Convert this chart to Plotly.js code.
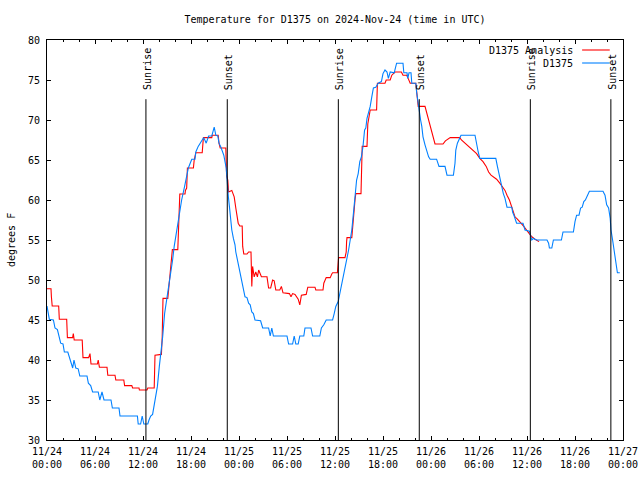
<!DOCTYPE html>
<html><head><meta charset="utf-8">
<script src="https://cdn.plot.ly/plotly-3.0.1.min.js"></script>
<style>html,body{margin:0;padding:0;background:#fff}#chart{width:640px;height:480px}</style>
</head><body><div id="chart"></div>
<script>
// hours since 2024-11-24 00:00 UTC
const analysisHours = [0.0,0.5,0.55,0.65,1.46,1.54,2.46,2.55,3.2,3.29,3.4,4.4,4.5,5.2,5.375,5.5,6.3,6.4,6.55,7.5,7.6,8.5,8.6,9.6,9.7,10.6,10.7,11.5,11.55,12.5,12.6,13.4,13.5,14.3,14.4,14.5,15.1,15.2,15.375,15.5,15.67,16.35,16.45,16.55,16.6,17.25,17.3,17.46,17.55,18.3,18.4,18.6,19.4,19.55,20.6,20.65,21.4,21.5,21.65,22.35,22.45,22.6,22.7,23.1,23.4,23.6,23.75,23.9,24.1,24.4,24.46,24.6,25.0,25.2,25.5,25.55,25.6,25.7,25.8,25.9,26.1,26.3,26.46,26.6,26.8,27.5,27.7,27.96,28.2,28.4,28.6,29.1,29.3,29.5,30.3,30.5,30.7,31.0,31.2,31.4,31.6,31.8,32.4,32.6,33.5,33.6,34.5,34.6,34.9,35.4,35.6,35.7,36.3,36.4,36.45,37.25,37.4,37.45,37.5,38.1,38.2,38.3,38.4,38.5,38.6,39.25,39.4,40.0,40.1,40.4,41.2,41.3,42.25,42.4,42.9,43.1,43.5,44.3,44.5,44.96,45.1,45.4,46.1,46.3,46.4,47.25,47.5,47.7,47.9,48.1,48.3,48.5,49.5,49.8,50.4,51.6,51.8,52.25,52.9,53.3,53.7,54.1,54.5,54.9,55.2,55.5,55.8,56.2,56.6,57.0,57.25,57.5,57.8,58.1,58.3,58.5,58.8,59.1,59.4,59.6,59.9,60.2,60.4,60.6,61.0,61.5];
const analysisTemps = [48.9,48.9,47.9,46.75,46.75,45.1,45.1,42.8,42.8,43.3,42.5,42.5,40.3,40.3,40.8,39.5,39.5,40.0,39.1,39.1,38.1,38.1,37.5,37.5,36.8,36.8,36.5,36.5,36.25,36.25,36.5,36.5,40.6,40.7,42.9,47.7,47.7,48.75,50.4,52.5,53.8,53.8,56.25,59.0,60.75,60.75,61.2,61.5,64.0,64.0,65.0,65.9,65.9,67.8,67.8,68.1,68.1,67.1,66.5,66.5,63.0,62.5,61.0,61.2,60.4,59.0,58.0,57.1,56.75,56.75,54.2,53.25,53.25,53.5,53.5,51.7,49.2,51.7,51.25,50.4,51.0,50.4,51.25,50.8,50.4,50.4,49.0,49.0,50.0,49.9,48.75,48.75,49.2,48.4,48.3,47.9,48.3,48.2,47.8,47.6,46.9,48.1,48.2,49.1,49.1,48.75,48.75,49.6,50.3,50.3,50.75,50.9,50.9,52.5,52.8,52.8,53.5,54.8,55.3,55.3,56.7,57.5,59.2,60.0,60.8,60.8,66.7,66.7,69.5,71.25,71.25,74.6,74.6,75.0,75.0,75.6,76.0,76.0,75.6,75.6,75.3,74.6,74.6,72.9,71.7,71.7,70.8,70.0,69.1,68.3,67.7,67.0,67.0,67.4,67.8,67.8,67.5,67.1,66.6,66.2,65.8,65.2,64.8,64.2,63.5,63.1,62.9,62.6,62.1,61.5,61.2,60.6,60.0,59.1,58.5,57.9,57.6,57.3,57.0,56.7,56.3,55.9,55.6,55.4,55.1,54.8];

const obsHours = [0.0,0.29,0.8,1.0,1.3,1.54,1.71,2.0,2.17,2.6,2.88,3.21,3.375,3.6,3.9,4.1,5.0,5.17,5.46,5.7,6.4,6.6,6.875,7.125,8.0,8.17,9.0,9.125,11.3,11.4,11.7,11.9,12.1,12.6,12.75,12.96,13.2,13.375,13.625,13.8,14.04,14.25,14.46,14.7,14.96,15.375,15.7,15.9,16.2,16.46,16.67,16.83,17.2,17.46,17.67,17.9,18.1,18.5,18.6,18.9,19.1,19.4,19.6,19.9,20.2,20.6,20.9,21.1,21.35,21.5,21.7,22.1,22.4,22.5,22.67,22.8,22.96,23.1,23.3,23.5,23.6,23.8,24.0,24.25,24.4,24.6,24.75,25.0,25.2,25.4,25.6,25.8,26.0,26.7,26.96,27.7,27.9,28.1,28.3,30.0,30.2,30.7,30.9,31.1,31.4,31.6,32.1,32.25,33.0,33.2,34.1,34.3,34.6,34.9,35.7,35.9,36.1,36.4,36.6,36.8,37.04,37.25,37.46,37.7,37.9,38.1,38.3,38.5,38.7,38.9,39.1,39.3,39.5,39.7,39.85,40.0,40.2,40.4,40.6,40.8,41.1,41.4,41.8,42.0,42.25,42.5,42.67,42.9,43.4,43.7,44.5,44.6,45.0,45.1,45.25,45.5,45.6,46.1,46.2,46.3,46.4,46.55,46.7,46.85,47.0,47.25,47.5,47.7,47.9,48.7,49.0,49.75,50.0,50.8,51.0,51.1,51.3,51.5,51.75,53.5,53.7,53.9,54.1,56.1,56.3,56.5,56.6,56.8,57.04,57.25,57.4,57.5,58.1,58.2,58.4,58.7,59.5,59.75,60.3,60.5,60.6,60.8,61.2,62.5,62.7,62.8,63.1,63.3,64.3,64.5,65.8,66.0,66.2,66.5,66.7,66.9,67.1,67.3,67.5,67.8,69.5,69.75,69.96,70.2,70.4,70.5,70.7,70.9,71.04,71.2,71.3,71.6];
const obsTemps = [46.75,45.1,45.0,44.0,43.8,42.9,42.1,42.0,41.0,41.0,40.0,39.0,40.0,39.0,38.9,38.0,38.0,37.1,36.8,36.0,36.0,35.0,36.0,35.0,35.0,34.0,34.0,33.0,33.0,32.0,32.0,33.0,32.0,32.0,32.5,33.0,33.2,34.2,35.4,36.7,39.2,40.9,42.9,45.8,47.5,50.0,52.5,54.2,56.25,57.5,59.0,60.0,61.7,62.9,64.0,64.6,65.1,65.1,66.0,66.7,67.1,67.5,67.8,67.1,68.0,68.0,69.1,68.1,68.0,67.1,66.7,65.6,64.0,62.0,60.4,59.2,57.5,56.25,55.2,54.4,53.5,52.5,51.6,50.6,49.8,48.75,47.9,47.8,47.1,46.9,46.0,45.8,45.0,44.9,44.0,44.0,43.0,44.0,43.0,43.0,42.0,42.0,43.0,42.0,42.0,43.0,43.0,44.0,44.0,43.0,43.0,44.0,44.4,45.0,45.0,45.8,46.7,47.3,48.3,49.0,50.4,51.7,52.7,53.75,55.0,56.25,58.3,60.4,62.5,63.3,64.8,65.4,66.7,68.75,69.0,70.2,71.0,71.7,72.9,74.0,74.1,74.6,74.8,75.8,76.25,76.0,75.2,76.0,75.9,77.1,77.1,75.9,75.9,75.2,75.9,75.9,74.6,74.6,73.5,72.7,71.7,70.8,70.0,69.2,67.9,66.9,66.0,65.4,65.1,65.1,64.2,64.2,63.1,63.1,64.6,66.25,67.1,67.5,68.1,68.1,66.75,66.0,65.2,65.2,64.2,63.3,62.5,61.9,60.8,60.2,59.7,59.1,59.1,58.5,58.0,57.1,57.1,56.25,56.1,55.4,55.0,55.2,55.0,55.0,54.6,54.0,54.0,55.0,55.0,56.0,56.0,57.3,58.1,58.1,59.0,59.1,59.8,60.0,60.4,61.1,61.1,60.6,59.4,59.0,57.7,56.25,55.0,53.5,52.3,51.3,50.9,50.9];

const sunTimes = ['2024-11-24 12:22','2024-11-24 22:32','2024-11-25 12:25','2024-11-25 22:32','2024-11-26 12:25','2024-11-26 22:29'];
const sunLabels = ['Sunrise','Sunset','Sunrise','Sunset','Sunrise','Sunset'];
const sunLineBottom = 30;
const sunLineTop = 72.6;
const sunLabelBase = 73.5;

const seriesNames = ['D1375 Analysis','D1375'];
const seriesColors = ['#ff0000','#0080ff'];

const FONT = 'DejaVu Sans Mono, monospace';

function hoursToDate(h){
  const d = new Date(Date.UTC(2024,10,24) + Math.round(h*3600000));
  const p = n => String(n).padStart(2,'0');
  return d.getUTCFullYear()+'-'+p(d.getUTCMonth()+1)+'-'+p(d.getUTCDate())+' '+p(d.getUTCHours())+':'+p(d.getUTCMinutes())+':'+p(d.getUTCSeconds());
}

const traces = [
  {x: analysisHours.map(hoursToDate), y: analysisTemps, type:'scatter', mode:'lines',
   line:{color:seriesColors[0], width:1.1}, name:seriesNames[0], showlegend:false},
  {x: obsHours.map(hoursToDate), y: obsTemps, type:'scatter', mode:'lines',
   line:{color:seriesColors[1], width:1.1}, name:seriesNames[1], showlegend:false}
];

const shapes = sunTimes.map(t => ({type:'line', xref:'x', yref:'y', x0:t, x1:t, y0:sunLineBottom, y1:sunLineTop,
  line:{color:'#000', width:1}}));
const annotations = sunTimes.map((t,i) => ({xref:'x', yref:'y', x:t, y:sunLabelBase, text:sunLabels[i],
  textangle:-90, showarrow:false, xanchor:'center', yanchor:'bottom', xshift:1,
  font:{family:FONT, size:10, color:'#000'}}));

// legend drawn gnuplot-style: text then sample line
const legendRows = [0.975, 0.9425];
seriesNames.forEach((n,i) => {
  annotations.push({xref:'paper', yref:'paper', x:0.916, y:legendRows[i], text:n, showarrow:false,
    xanchor:'right', yanchor:'middle', font:{family:FONT, size:10, color:'#000'}});
  shapes.push({type:'line', xref:'paper', yref:'paper', x0:0.929, x1:0.977, y0:legendRows[i], y1:legendRows[i],
    line:{color:seriesColors[i], width:1.1}});
});
annotations.push({xref:'paper', yref:'paper', x:-0.0625, y:0.5, text:'degrees F', textangle:-90, showarrow:false,
  xanchor:'center', yanchor:'middle', font:{family:FONT, size:10, color:'#000'}});

const layout = {
  width:640, height:480,
  margin:{l:47, r:17, t:40, b:40},
  paper_bgcolor:'#fff', plot_bgcolor:'#fff',
  title:{text:'Temperature for D1375 on 2024-Nov-24 (time in UTC)', font:{family:FONT, size:10, color:'#000'},
    xref:'paper', x:0.5, xanchor:'center', yref:'container', y:0.96, yanchor:'middle'},
  xaxis:{type:'date', range:['2024-11-24 00:00','2024-11-27 00:00'], tick0:'2024-11-24 00:00', dtick:6*3600000,
    tickformat:'%m/%d<br>%H:%M', ticks:'inside', ticklen:4, tickcolor:'#000', showline:true, linecolor:'#000', linewidth:1,
    mirror:'ticks', showgrid:false, zeroline:false, ticklabelstandoff:2, tickfont:{family:FONT, size:10, color:'#000'},
    minor:{dtick:2*3600000, ticks:'inside', ticklen:2, tickcolor:'#000', showgrid:false}},
  yaxis:{range:[30,80], dtick:5, ticks:'inside', ticklen:4, tickcolor:'#000', showline:true, linecolor:'#000', linewidth:1,
    mirror:'ticks', showgrid:false, zeroline:false, ticklabelstandoff:4, tickfont:{family:FONT, size:10, color:'#000'}},
  shapes:shapes, annotations:annotations, showlegend:false
};
Plotly.newPlot('chart', traces, layout, {staticPlot:true});
</script></body></html>
